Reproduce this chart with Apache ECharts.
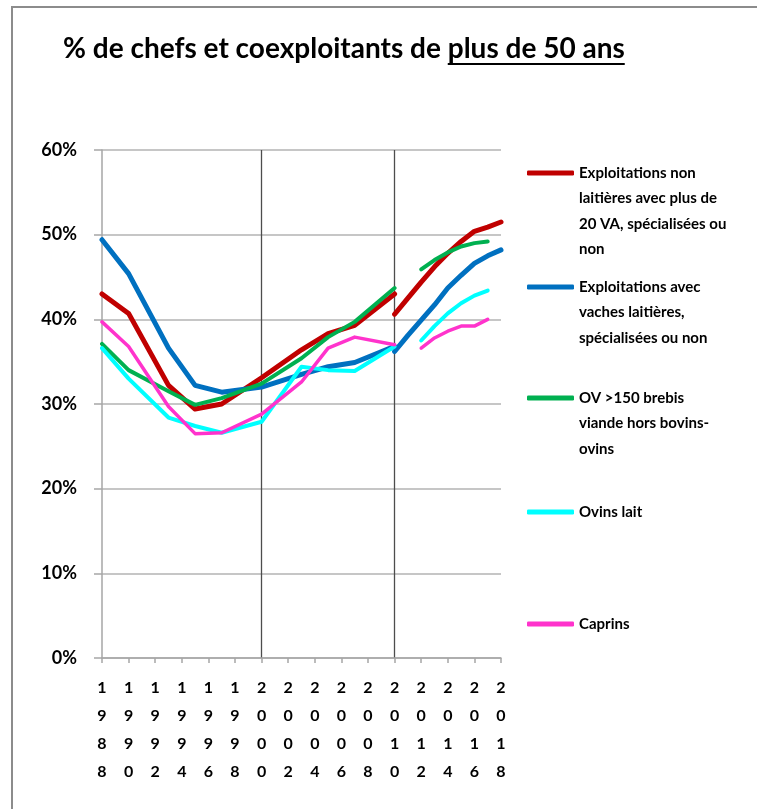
<!DOCTYPE html>
<html>
<head>
<meta charset="utf-8">
<title>% de chefs et coexploitants de plus de 50 ans</title>
<script src="https://cdn.jsdelivr.net/npm/echarts@6/dist/echarts.min.js"></script>
<style>
  html, body { margin: 0; padding: 0; background: #fff; }
  #chart { width: 757px; height: 809px; }
</style>
</head>
<body>
<div id="chart"></div>
<script>
// années de l'axe
const years = [];
for (let y = 1988; y <= 2018; y++) years.push(String(y));

// enquêtes structure (1988-2010)
const surveyYears = ['1988', '1990', '1993', '1995', '1997', '2000', '2003', '2005', '2007', '2010'];
const red1   = [43.0, 40.7, 32.2, 29.4, 30.0, 33.1, 36.4, 38.3, 39.3, 43.0];
const blue1  = [49.4, 45.4, 36.6, 32.2, 31.4, 32.0, 33.5, 34.4, 34.9, 36.8];
const green1 = [37.1, 34.0, 31.5, 29.9, 30.7, 32.4, 35.4, 37.9, 39.7, 43.7];
const cyan1  = [36.6, 33.0, 28.4, 27.4, 26.6, 27.9, 34.4, 34.0, 33.9, 36.8];
const pink1  = [39.7, 36.8, 29.7, 26.5, 26.6, 28.8, 32.6, 36.6, 37.9, 37.0];

// série annuelle 2010-2018
const recentYears = ['2010', '2011', '2012', '2013', '2014', '2015', '2016', '2017', '2018'];
const red2   = [40.6, 42.5, 44.4, 46.2, 47.8, 49.2, 50.4, 50.9, 51.5];
const blue2  = [36.2, 38.1, 39.9, 41.7, 43.7, 45.2, 46.6, 47.5, 48.2];
const green2 = [null, null, 45.9, 47.0, 47.9, 48.6, 49.0, 49.2, null];
const cyan2  = [null, null, 37.5, 39.2, 40.7, 41.9, 42.8, 43.4, null];
const pink2  = [null, null, 36.6, 37.8, 38.6, 39.2, 39.2, 40.0, null];

const yTicks = [0, 10, 20, 30, 40, 50, 60];

const names = [
  'Exploitations non\nlaitières avec plus de\n20 VA, spécialisées ou\nnon',
  'Exploitations avec\nvaches laitières,\nspécialisées ou non',
  'OV >150 brebis\nviande hors bovins-\novins',
  'Ovins lait',
  'Caprins'
];
const colors = ['#C00000', '#0070C0', '#00B050', '#00FFFF', '#FF33CC'];
const widths = [5, 5, 4, 4, 3.5];
const before = [red1, blue1, green1, cyan1, pink1];
const after = [red2, blue2, green2, cyan2, pink2];

const FONT = 'Lato, "Open Sans", sans-serif';
const titleText = '% de chefs et coexploitants de plus de 50 ans';
const underlined = 'plus de 50 ans';
const titleSize = 28;
const titleLeft = 63;
const titleTop = 35;

// position du soulignement
const ctx = document.createElement('canvas').getContext('2d');
ctx.font = 'bold ' + titleSize + 'px Lato';
const ulStart = titleLeft + ctx.measureText(titleText.slice(0, titleText.length - underlined.length)).width;
const ulEnd = titleLeft + ctx.measureText(titleText).width;

const series = [];
names.forEach((name, i) => {
  const common = {
    name: name,
    type: 'line',
    symbol: 'none',
    color: colors[i],
    lineStyle: { color: colors[i], width: widths[i], cap: 'round', join: 'round' },
    emphasis: { disabled: true }
  };
  series.push(Object.assign({}, common, {
    connectNulls: true,
    data: surveyYears.map((y, k) => [y, before[i][k]])
  }));
  series.push(Object.assign({}, common, {
    data: recentYears.map((y, k) => [y, after[i][k]])
  }));
});

// la 1re ligne du texte doit être au niveau du trait : lignes vides en tête
const legendCenters = [173, 287, 398, 512, 624];
const LH = 25.5;
const legends = names.map((name, i) => {
  const lines = name.split('\n').length;
  return {
    data: [name],
    left: 527,
    top: legendCenters[i] - (2 * lines - 1) * LH / 2,
    padding: 0,
    icon: 'roundRect',
    itemWidth: 47,
    itemHeight: 5,
    selectedMode: false,
    formatter: n => '\n'.repeat(lines - 1) + n,
    textStyle: {
      fontFamily: FONT,
      fontWeight: 'bold',
      fontSize: 15,
      lineHeight: LH,
      color: '#000'
    }
  };
});

let myChart = echarts.init(document.getElementById('chart'));
myChart.setOption({
  animation: false,
  backgroundColor: '#fff',
  title: {
    text: titleText,
    left: titleLeft,
    top: titleTop,
    padding: 0,
    textStyle: { fontFamily: FONT, fontWeight: 'bold', fontSize: titleSize, color: '#000' }
  },
  graphic: [
    {
      type: 'rect',
      z: -10,
      shape: { x: 12, y: 7, width: 900, height: 900 },
      style: { fill: null, stroke: '#8c8c8c', lineWidth: 2 }
    },
    {
      type: 'line',
      shape: { x1: ulStart, y1: titleTop + titleSize + 1, x2: ulEnd, y2: titleTop + titleSize + 1 },
      style: { stroke: '#000', lineWidth: 1.8 }
    }
  ],
  legend: legends,
  grid: { left: 102, top: 150, width: 399, height: 508, containLabel: false },
  xAxis: {
    type: 'category',
    data: years,
    boundaryGap: false,
    axisLine: { show: true, lineStyle: { color: '#a6a6a6', width: 1.5 } },
    axisTick: { show: true, interval: 1, length: 5, lineStyle: { color: '#a6a6a6', width: 1.5 } },
    axisLabel: {
      interval: 1,
      margin: 16,
      fontFamily: FONT,
      fontWeight: 'bold',
      fontSize: 16,
      lineHeight: 28,
      color: '#000',
      formatter: v => v.split('').join('\n')
    },
    splitLine: {
      show: true,
      interval: (idx, v) => v === '2000' || v === '2010',
      lineStyle: { color: '#4d4d4d', width: 1.3 }
    }
  },
  yAxis: {
    type: 'value',
    min: yTicks[0],
    max: yTicks[yTicks.length - 1],
    interval: 10,
    axisLine: { show: true, lineStyle: { color: '#a6a6a6', width: 1.5 } },
    axisTick: { show: true, length: 8, lineStyle: { color: '#a6a6a6', width: 1.5 } },
    axisLabel: {
      margin: 25,
      fontFamily: FONT,
      fontWeight: 'bold',
      fontSize: 18,
      color: '#000',
      formatter: '{value}%'
    },
    splitLine: { show: true, lineStyle: { color: '#b3b3b3', width: 1.5 } }
  },
  series: series
});
</script>
</body>
</html>
